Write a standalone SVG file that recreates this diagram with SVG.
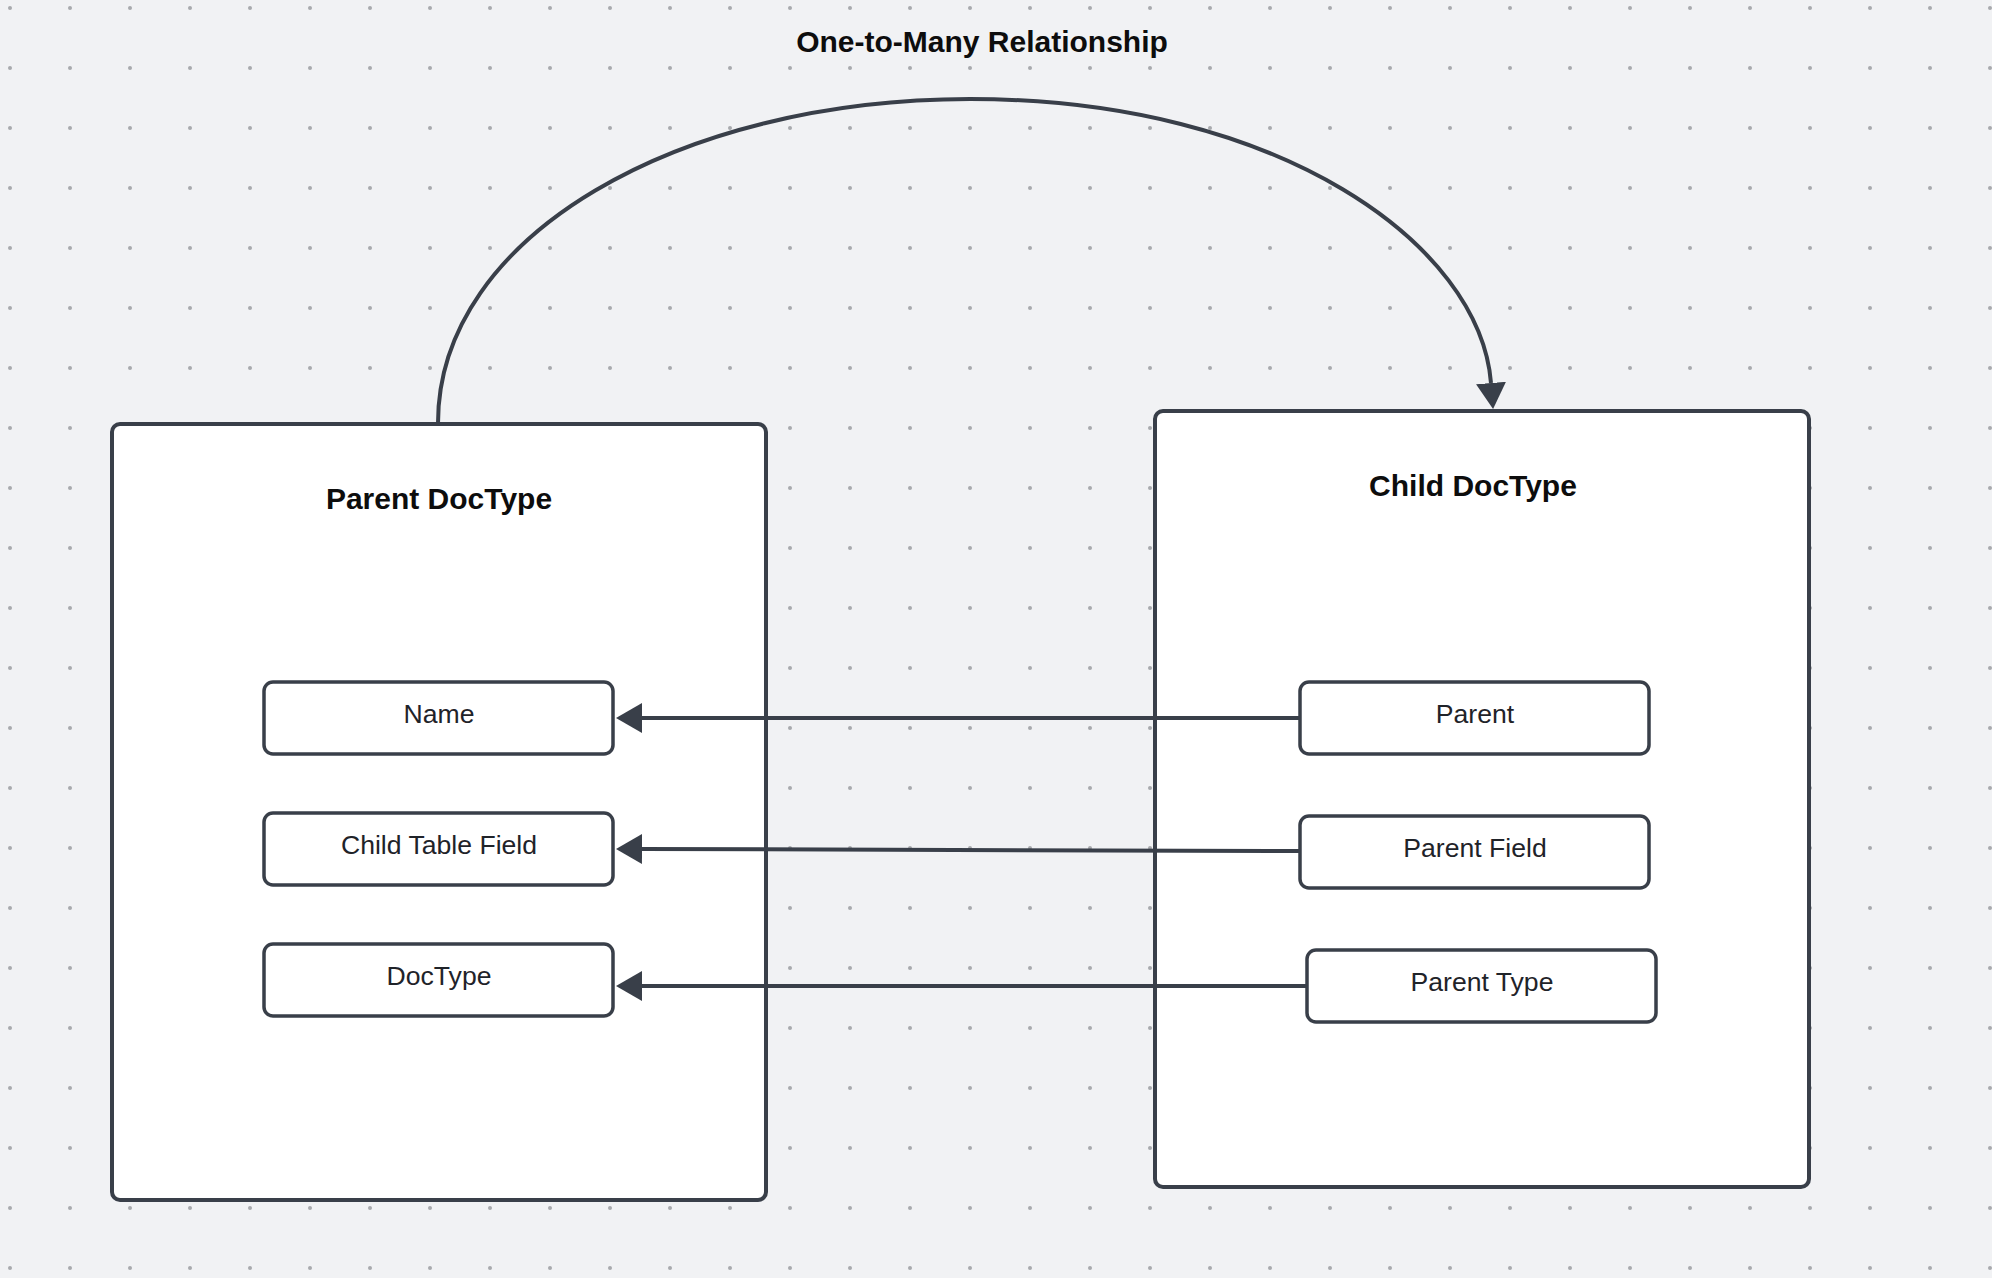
<svg xmlns="http://www.w3.org/2000/svg" width="1992" height="1278" viewBox="0 0 1992 1278">
  <defs>
    <pattern id="dots" x="0" y="0" width="60" height="60" patternUnits="userSpaceOnUse">
      <circle cx="10" cy="8" r="2" fill="#a8aaae"/>
    </pattern>
    <marker id="arrow" viewBox="0 0 26 30" refX="0" refY="15" markerWidth="26" markerHeight="30" markerUnits="userSpaceOnUse" orient="auto">
      <path d="M0,0 L26,15 L0,30 Z" fill="#393f49"/>
    </marker>
  </defs>
  <style>
    .container { fill: #ffffff; stroke: #393f49; stroke-width: 4; }
    .field { fill: #ffffff; stroke: #393f49; stroke-width: 3.5; }
    .title { font-family: "Liberation Sans", Arial, sans-serif; font-weight: bold; font-size: 30px; fill: #0d0d0d; text-anchor: middle; }
    .label { font-family: "Liberation Sans", Arial, sans-serif; font-size: 26.6px; fill: #1f2329; text-anchor: middle; }
    .conn { fill: none; stroke: #393f49; stroke-width: 4; }
  </style>
  <rect x="0" y="0" width="1992" height="1278" fill="#f1f2f4"/>
  <rect x="0" y="0" width="1992" height="1278" fill="url(#dots)"/>

  <text id="diagram-title" class="title" x="982" y="52">One-to-Many Relationship</text>

  <g id="parent-doctype">
    <rect class="container" x="112" y="424" width="654" height="776" rx="8"/>
    <text class="title" x="439" y="509">Parent DocType</text>
  </g>
  <g id="child-doctype">
    <rect class="container" x="1155" y="411" width="654" height="776" rx="8"/>
    <text class="title" x="1473" y="496">Child DocType</text>
  </g>

  <g id="field-name">
    <rect class="field" x="264" y="682" width="349" height="72" rx="9"/>
    <text class="label" x="439" y="723">Name</text>
  </g>
  <g id="field-child-table-field">
    <rect class="field" x="264" y="813" width="349" height="72" rx="9"/>
    <text class="label" x="439" y="854">Child Table Field</text>
  </g>
  <g id="field-doctype">
    <rect class="field" x="264" y="944" width="349" height="72" rx="9"/>
    <text class="label" x="439" y="985">DocType</text>
  </g>

  <g id="field-parent">
    <rect class="field" x="1300" y="682" width="349" height="72" rx="9"/>
    <text class="label" x="1475" y="723">Parent</text>
  </g>
  <g id="field-parent-field">
    <rect class="field" x="1300" y="816" width="349" height="72" rx="9"/>
    <text class="label" x="1475" y="857">Parent Field</text>
  </g>
  <g id="field-parent-type">
    <rect class="field" x="1307" y="950" width="349" height="72" rx="9"/>
    <text class="label" x="1482" y="991">Parent Type</text>
  </g>

  <g id="connectors">
    <path class="conn" d="M438,423 C438,235 680,99 970,99 C1280,99 1480,245 1491,383" marker-end="url(#arrow)"/>
    <path class="conn" d="M1300,718 L642,718" marker-end="url(#arrow)"/>
    <path class="conn" d="M1300,851 L642,849" marker-end="url(#arrow)"/>
    <path class="conn" d="M1307,986 L642,986" marker-end="url(#arrow)"/>
  </g>
</svg>
